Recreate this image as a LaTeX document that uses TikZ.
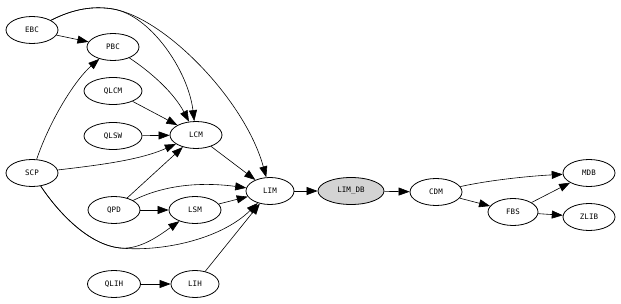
\documentclass[tikz,border=0pt]{standalone}
\usepackage{fontspec}
\setmonofont{DejaVu Sans Mono}
\usetikzlibrary{shapes.geometric,arrows.meta}
\begin{document}
\begin{tikzpicture}[x=1pt,y=-1pt,
  gnode/.style={draw,ellipse,line width=0.8pt,minimum width=52pt,minimum height=27pt,inner sep=0pt,font=\ttfamily\fontsize{7.5}{8}\selectfont},
  edge/.style={draw,line width=0.6pt,-{Triangle[length=11pt,width=8pt]}}]
\useasboundingbox (0,0) rectangle (621,304);
\node[gnode] (EBC) at (32,30) {EBC};
\node[gnode] (PBC) at (113,47) {PBC};
\node[gnode,minimum width=58pt] (QLCM) at (113,91) {QLCM};
\node[gnode,minimum width=58pt] (QLSW) at (113,136) {QLSW};
\node[gnode] (LCM) at (196,135) {LCM};
\node[gnode] (SCP) at (32,173) {SCP};
\node[gnode] (QPD) at (114,210) {QPD};
\node[gnode] (LSM) at (195,210) {LSM};
\node[gnode,minimum width=48pt] (LIM) at (270,191) {LIM};
\node[gnode,minimum width=53pt] (QLIH) at (114,284) {QLIH};
\node[gnode,minimum width=48pt] (LIH) at (195,284) {LIH};
\node[gnode,minimum width=66pt,fill={rgb,255:red,211;green,211;blue,211}] (LIMDB) at (351,191) {LIM\_DB};
\node[gnode] (CDM) at (436,192) {CDM};
\node[gnode,minimum width=50pt] (FBS) at (513,212) {FBS};
\node[gnode] (MDB) at (589,173) {MDB};
\node[gnode] (ZLIB) at (589,217) {ZLIB};

\path[edge] (EBC) -- (PBC);
\path[edge] (EBC) .. controls (75,8) and (95,6) .. (113,9) .. controls (150,15) and (188,70) .. (LCM);
\path[edge] (EBC) .. controls (75,8) and (95,6) .. (113,9) .. controls (165,18) and (245,100) .. (LIM);
\path[edge] (PBC) .. controls (155,75) and (175,95) .. (LCM);
\path[edge] (QLCM) -- (LCM);
\path[edge] (QLSW) -- (LCM);
\path[edge] (SCP) .. controls (50,120) and (75,80) .. (PBC);
\path[edge] (SCP) .. controls (100,165) and (140,160) .. (LCM);
\path[edge] (SCP) .. controls (60,215) and (90,245) .. (120,248) .. controls (140,250) and (160,235) .. (LSM);
\path[edge] (SCP) .. controls (60,215) and (90,245) .. (120,248) .. controls (160,252) and (220,240) .. (LIM);
\path[edge] (QPD) -- (LCM);
\path[edge] (QPD) .. controls (170,182) and (210,183) .. (LIM);
\path[edge] (QPD) -- (LSM);
\path[edge] (LSM) -- (LIM);
\path[edge] (LCM) -- (LIM);
\path[edge] (LIH) -- (LIM);
\path[edge] (QLIH) -- (LIH);
\path[edge] (LIM) -- (LIMDB);
\path[edge] (LIMDB) -- (CDM);
\path[edge] (CDM) .. controls (490,180) and (530,176) .. (MDB);
\path[edge] (CDM) -- (FBS);
\path[edge] (FBS) -- (MDB);
\path[edge] (FBS) -- (ZLIB);
\end{tikzpicture}
\end{document}
